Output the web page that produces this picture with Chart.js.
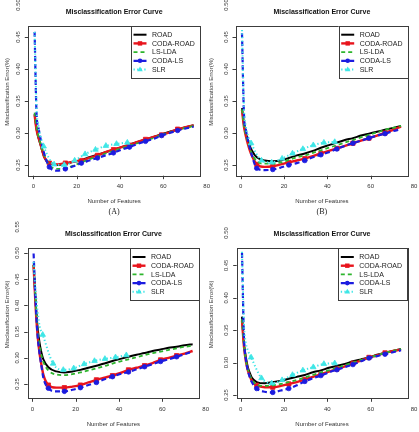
<!DOCTYPE html>
<html><head><meta charset="utf-8">
<script src="https://cdn.jsdelivr.net/npm/chart.js@4/dist/chart.umd.min.js"></script>
<style>
html,body{margin:0;padding:0;background:#fff;}
body{width:419px;height:432px;position:relative;overflow:hidden;}
canvas{position:absolute;}
</style></head>
<body>
<canvas id="cA" width="210" height="220" style="left:0;top:0;width:210px;height:220px"></canvas>
<canvas id="cB" width="213" height="220" style="left:206px;top:0;width:213px;height:220px"></canvas>
<canvas id="cC" width="210" height="217" style="left:0;top:215px;width:210px;height:217px"></canvas>
<canvas id="cD" width="213" height="217" style="left:206px;top:215px;width:213px;height:217px"></canvas>
<script>
// ---------- data ----------
const seriesNames = ['ROAD', 'CODA-ROAD', 'LS-LDA', 'CODA-LS', 'SLR'];
const xTickLabels = ['0', '20', '40', '60', '80'];
const yTickLabels = ['0.25', '0.30', '0.35', '0.40', '0.45', '0.50'];
const yTickLabelsC = ['0.25', '0.30', '0.35', '0.40', '0.45', '0.50', '0.55'];
const panelLetters = ['(A)', '(B)', '', ''];

// number of features (as read on the drawn axis)
const features = [0.6, 1.5, 2.4, 3.3, 4.2, 5.1, 7.4, 11.1, 14.8, 18.5, 22.2, 25.9, 29.6, 33.3, 37, 40.7, 44.4, 48.1, 51.8, 55.5, 59.2, 62.9, 66.6, 70.3, 74];
const featuresSLR = [0.6, 1.5, 2.4, 3.4, 4.8, 9.6, 14.3, 19.1, 23.9, 28.7, 33.5, 38.4, 43.4];

// Panel A
const roadA     = [0.330, 0.306, 0.292, 0.282, 0.271, 0.262, 0.252, 0.250, 0.252, 0.255, 0.258, 0.262, 0.266, 0.270, 0.274, 0.278, 0.282, 0.286, 0.290, 0.294, 0.298, 0.302, 0.305, 0.309, 0.312];
const codaRoadA = [0.328, 0.305, 0.293, 0.283, 0.272, 0.262, 0.253, 0.251, 0.253, 0.255, 0.257, 0.261, 0.265, 0.270, 0.274, 0.278, 0.281, 0.286, 0.290, 0.294, 0.297, 0.301, 0.306, 0.309, 0.312];
const lsLdaA    = [0.332, 0.310, 0.295, 0.284, 0.274, 0.265, 0.250, 0.244, 0.245, 0.249, 0.254, 0.259, 0.263, 0.268, 0.272, 0.276, 0.280, 0.284, 0.288, 0.292, 0.297, 0.301, 0.305, 0.308, 0.311];
const codaLsA   = [0.458, 0.330, 0.308, 0.292, 0.279, 0.267, 0.247, 0.241, 0.244, 0.248, 0.253, 0.257, 0.261, 0.265, 0.269, 0.274, 0.278, 0.283, 0.287, 0.291, 0.296, 0.300, 0.304, 0.307, 0.310];
const slrA      = [0.458, 0.340, 0.310, 0.294, 0.279, 0.251, 0.250, 0.257, 0.267, 0.274, 0.280, 0.283, 0.285];

// Panel B
const roadB     = [0.339, 0.315, 0.300, 0.290, 0.280, 0.273, 0.262, 0.257, 0.256, 0.257, 0.261, 0.265, 0.268, 0.272, 0.277, 0.281, 0.285, 0.289, 0.292, 0.296, 0.299, 0.302, 0.305, 0.308, 0.311];
const codaRoadB = [0.336, 0.310, 0.295, 0.283, 0.273, 0.265, 0.251, 0.247, 0.248, 0.251, 0.254, 0.257, 0.260, 0.264, 0.268, 0.272, 0.276, 0.280, 0.284, 0.288, 0.292, 0.296, 0.300, 0.305, 0.310];
const lsLdaB    = [0.337, 0.312, 0.297, 0.286, 0.276, 0.268, 0.256, 0.252, 0.252, 0.254, 0.258, 0.262, 0.265, 0.269, 0.273, 0.277, 0.281, 0.285, 0.289, 0.293, 0.297, 0.301, 0.305, 0.308, 0.311];
const codaLsB   = [0.456, 0.330, 0.305, 0.290, 0.277, 0.266, 0.245, 0.242, 0.243, 0.246, 0.250, 0.253, 0.257, 0.262, 0.266, 0.270, 0.275, 0.280, 0.284, 0.288, 0.292, 0.296, 0.299, 0.303, 0.306];
const slrB      = [0.461, 0.340, 0.310, 0.295, 0.284, 0.257, 0.254, 0.260, 0.268, 0.275, 0.281, 0.285, 0.286];

// Panel C
const roadC     = [0.477, 0.410, 0.360, 0.330, 0.310, 0.297, 0.282, 0.274, 0.272, 0.274, 0.277, 0.281, 0.285, 0.289, 0.294, 0.298, 0.302, 0.306, 0.309, 0.313, 0.316, 0.319, 0.321, 0.324, 0.326];
const codaRoadC = [0.477, 0.400, 0.345, 0.310, 0.287, 0.268, 0.248, 0.243, 0.243, 0.245, 0.248, 0.253, 0.258, 0.262, 0.266, 0.271, 0.277, 0.281, 0.285, 0.290, 0.296, 0.300, 0.304, 0.308, 0.313];
const lsLdaC    = [0.480, 0.410, 0.355, 0.325, 0.305, 0.292, 0.276, 0.268, 0.267, 0.269, 0.272, 0.276, 0.280, 0.284, 0.289, 0.293, 0.297, 0.301, 0.305, 0.309, 0.312, 0.315, 0.318, 0.321, 0.323];
const codaLsC   = [0.499, 0.410, 0.345, 0.310, 0.285, 0.262, 0.242, 0.236, 0.236, 0.239, 0.243, 0.248, 0.253, 0.259, 0.264, 0.269, 0.273, 0.278, 0.283, 0.288, 0.293, 0.297, 0.302, 0.307, 0.312];
const slrC      = [0.483, 0.430, 0.390, 0.360, 0.344, 0.289, 0.277, 0.280, 0.288, 0.294, 0.298, 0.301, 0.305];

// Panel D
const roadD     = [0.371, 0.330, 0.308, 0.293, 0.284, 0.277, 0.270, 0.268, 0.270, 0.272, 0.275, 0.278, 0.281, 0.285, 0.288, 0.292, 0.295, 0.298, 0.302, 0.305, 0.308, 0.312, 0.315, 0.318, 0.321];
const codaRoadD = [0.365, 0.325, 0.302, 0.288, 0.279, 0.272, 0.265, 0.262, 0.262, 0.264, 0.267, 0.270, 0.274, 0.278, 0.282, 0.286, 0.290, 0.294, 0.299, 0.303, 0.308, 0.311, 0.315, 0.318, 0.320];
const lsLdaD    = [0.367, 0.327, 0.304, 0.290, 0.281, 0.274, 0.266, 0.264, 0.265, 0.267, 0.270, 0.273, 0.277, 0.281, 0.285, 0.288, 0.292, 0.296, 0.300, 0.304, 0.308, 0.311, 0.315, 0.318, 0.321];
const codaLsD   = [0.469, 0.340, 0.305, 0.288, 0.277, 0.270, 0.260, 0.255, 0.254, 0.257, 0.260, 0.265, 0.271, 0.276, 0.280, 0.285, 0.289, 0.293, 0.297, 0.302, 0.307, 0.310, 0.313, 0.316, 0.319];
const slrD      = [0.471, 0.360, 0.330, 0.318, 0.308, 0.276, 0.268, 0.273, 0.281, 0.288, 0.293, 0.298, 0.299];

// ---------- styles ----------
const FONT = '"Liberation Sans", Arial, Helvetica, sans-serif';
const COLORS = ['#000000', '#e8141c', '#2db52d', '#1c1ce0', '#3ee6e6'];
const DASHES = [[], [], [4, 3], [5, 3], [1.3, 2.3]];
const WIDTHS = [2, 2.4, 1.8, 2.2, 2];
const MARKERS = [null, 'rect', null, 'circle', 'triangle'];
const MSIZE = { rect: 3.0, circle: 2.3, triangle: 3.2 };

function isMainMarker(i) { return i >= 6 && i <= 22 && (i - 6) % 2 === 0; }

function makeDatasets(vals) {
  return vals.map((v, k) => {
    const xs = k === 4 ? featuresSLR : features;
    const m = MARKERS[k];
    return {
      label: seriesNames[k],
      data: xs.map((x, i) => ({ x: x, y: v[i] })),
      borderColor: COLORS[k],
      backgroundColor: COLORS[k],
      borderWidth: WIDTHS[k],
      borderDash: DASHES[k],
      cubicInterpolationMode: 'monotone',
      pointStyle: m || 'circle',
      pointRadius: m ? (ctx => (k === 4 ? ctx.dataIndex >= 4 : isMainMarker(ctx.dataIndex)) ? MSIZE[m] : 0) : 0,
      pointBorderWidth: 0.8,
      pointBorderColor: COLORS[k],
      pointBackgroundColor: COLORS[k],
      fill: false,
      order: 4 - k
    };
  });
}

function drawMarker(ctx, type, x, y, color) {
  ctx.save(); ctx.fillStyle = color; ctx.setLineDash([]);
  ctx.beginPath();
  if (type === 'rect') { ctx.rect(x - 2.2, y - 2.2, 4.4, 4.4); }
  else if (type === 'circle') { ctx.arc(x, y, 2.3, 0, Math.PI * 2); }
  else if (type === 'triangle') { ctx.moveTo(x, y - 3); ctx.lineTo(x + 2.8, y + 1.7); ctx.lineTo(x - 2.8, y + 1.7); ctx.closePath(); }
  ctx.fill(); ctx.restore();
}

const framePlugin = {
  id: 'frame',
  afterDatasetsDraw(chart) {
    const p = chart.options.plugins.frame;
    const ctx = chart.ctx, a = chart.chartArea, xs = chart.scales.x, ys = chart.scales.y;
    ctx.save();
    ctx.setLineDash([]);
    ctx.strokeStyle = '#3c3c3c'; ctx.lineWidth = 1;
    ctx.strokeRect(Math.round(a.left) + 0.5, Math.round(a.top) + 0.5, Math.round(a.right - a.left), Math.round(a.bottom - a.top));
    ctx.fillStyle = '#333';
    ctx.font = '6px ' + FONT;
    ctx.textAlign = 'center'; ctx.textBaseline = 'middle';
    xTickLabels.forEach(t => {
      const px = xs.getPixelForValue(+t);
      if (px >= a.left - 0.5 && px <= a.right + 0.5) {
        ctx.beginPath(); ctx.moveTo(Math.round(px) + 0.5, a.bottom); ctx.lineTo(Math.round(px) + 0.5, a.bottom + 3.5); ctx.stroke();
      }
      ctx.fillText(t, px, a.bottom + 11);
    });
    ctx.font = '5.8px ' + FONT;
    p.yLabels.forEach(t => {
      const py = ys.getPixelForValue(+t);
      if (py >= a.top - 0.5 && py <= a.bottom + 0.5) {
        ctx.beginPath(); ctx.moveTo(a.left, Math.round(py) + 0.5); ctx.lineTo(a.left - 3.5, Math.round(py) + 0.5); ctx.stroke();
      }
      ctx.save(); ctx.translate(a.left - 10, py); ctx.rotate(-Math.PI / 2); ctx.fillText(t, 0, 0); ctx.restore();
    });
    // axis titles
    ctx.font = '6px ' + FONT;
    ctx.fillStyle = '#333';
    ctx.fillText('Number of Features', (a.left + a.right) / 2, a.bottom + 26);
    ctx.save(); ctx.translate(p.yTitleX, (a.top + a.bottom) / 2 - 9); ctx.rotate(-Math.PI / 2);
    ctx.fillText('Misclassification Error(%)', 0, 0); ctx.restore();
    // main title
    ctx.font = 'bold 7px ' + FONT; ctx.fillStyle = '#111';
    ctx.fillText('Misclassification Error Curve', (a.left + a.right) / 2, a.top - 14);
    // panel letter
    if (p.letter) {
      ctx.font = '8px "Liberation Serif", "Times New Roman", serif'; ctx.fillStyle = '#222';
      ctx.fillText(p.letter, (a.left + a.right) / 2, a.bottom + 36.5);
    }
    // legend
    const lw = 69, lh = 52.3;
    const lx = a.right - lw, ly = a.top;
    ctx.fillStyle = '#fff'; ctx.fillRect(lx, ly, lw, lh);
    ctx.strokeStyle = '#3c3c3c'; ctx.lineWidth = 1;
    ctx.strokeRect(Math.round(lx) + 0.5, Math.round(ly) + 0.5, Math.round(lw), Math.round(lh));
    ctx.font = '7px ' + FONT; ctx.textAlign = 'left';
    seriesNames.forEach((n, k) => {
      const yy = ly + 8.7 + k * 8.7;
      ctx.save();
      ctx.strokeStyle = COLORS[k]; ctx.lineWidth = WIDTHS[k]; ctx.setLineDash(DASHES[k]);
      ctx.beginPath(); ctx.moveTo(lx + 2.5, yy); ctx.lineTo(lx + 15.5, yy); ctx.stroke();
      ctx.restore();
      if (MARKERS[k]) drawMarker(ctx, MARKERS[k], lx + 9, yy, COLORS[k]);
      ctx.fillStyle = '#222';
      ctx.fillText(n, lx + 21, yy + 0.3);
    });
    ctx.restore();
  }
};

const panels = [
  { id: 'cA', vals: [roadA, codaRoadA, lsLdaA, codaLsA, slrA], pad: { left: 28.3, right: 10, top: 26, bottom: 44.3 },
    x: [-2.308, 76.94], y: [0.23328, 0.46719], yLabels: yTickLabels, yTitleX: 7, letter: panelLetters[0] },
  { id: 'cB', vals: [roadB, codaRoadB, lsLdaB, codaLsB, slrB], pad: { left: 30, right: 11.3, top: 26, bottom: 44.3 },
    x: [-2.169, 77.08], y: [0.23328, 0.46719], yLabels: yTickLabels, yTitleX: 5, letter: panelLetters[1] },
  { id: 'cC', vals: [roadC, codaRoadC, lsLdaC, codaLsC, slrC], pad: { left: 27.7, right: 11, top: 33.3, bottom: 33.7 },
    x: [-2.123, 76.93], y: [0.22271, 0.50897], yLabels: yTickLabelsC, yTitleX: 7, letter: panelLetters[2] },
  { id: 'cD', vals: [roadD, codaRoadD, lsLdaD, codaLsD, slrD], pad: { left: 30.7, right: 11.7, top: 33.3, bottom: 33.7 },
    x: [-1.846, 76.89], y: [0.24491, 0.47639], yLabels: yTickLabels, yTitleX: 5, letter: panelLetters[3] }
];

panels.forEach(p => {
  new Chart(document.getElementById(p.id), {
    type: 'line',
    data: { datasets: makeDatasets(p.vals) },
    plugins: [framePlugin],
    options: {
      responsive: false, animation: false, devicePixelRatio: 1,
      layout: { padding: p.pad },
      scales: {
        x: { type: 'linear', min: p.x[0], max: p.x[1], display: false },
        y: { type: 'linear', min: p.y[0], max: p.y[1], display: false }
      },
      plugins: {
        legend: { display: false }, tooltip: { enabled: false }, title: { display: false },
        frame: { yLabels: p.yLabels, yTitleX: p.yTitleX, letter: p.letter }
      }
    }
  });
});
</script>
</body></html>
